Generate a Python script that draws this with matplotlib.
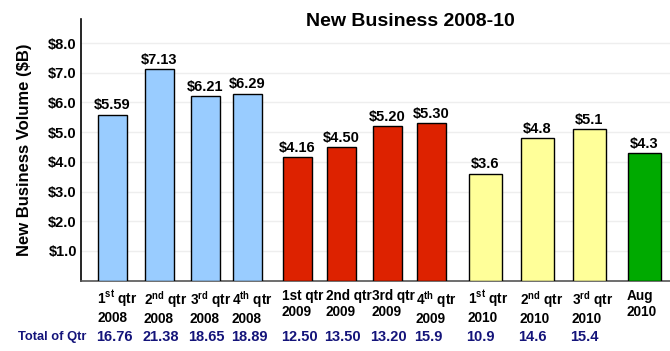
# New Business 2008-10 bar chart

import numpy as np
import matplotlib
matplotlib.use('Agg')
import matplotlib.pyplot as plt

plt.rcParams['font.family'] = ['Liberation Sans', 'DejaVu Sans']
plt.rcParams['font.weight'] = 'bold'
plt.rcParams['mathtext.fontset'] = 'custom'
plt.rcParams['mathtext.bf'] = 'Liberation Sans:bold'
plt.rcParams['mathtext.rm'] = 'Liberation Sans:bold'
plt.rcParams['mathtext.it'] = 'Liberation Sans:bold'

# data
periods = [r'1$^{\mathbf{st}}$ qtr' + '\n2008', r'2$^{\mathbf{nd}}$ qtr' + '\n2008',
           r'3$^{\mathbf{rd}}$ qtr' + '\n2008', r'4$^{\mathbf{th}}$ qtr' + '\n2008',
           '1st qtr\n2009', '2nd qtr\n2009', '3rd qtr\n2009',
           r'4$^{\mathbf{th}}$ qtr' + '\n2009',
           r'1$^{\mathbf{st}}$ qtr' + '\n2010', r'2$^{\mathbf{nd}}$ qtr' + '\n2010',
           r'3$^{\mathbf{rd}}$ qtr' + '\n2010', 'Aug\n2010']
volume = [5.59, 7.13, 6.21, 6.29, 4.16, 4.50, 5.20, 5.30, 3.6, 4.8, 5.1, 4.3]
value_labels = ['$5.59', '$7.13', '$6.21', '$6.29', '$4.16', '$4.50',
                '$5.20', '$5.30', '$3.6', '$4.8', '$5.1', '$4.3']
qtr_totals = ['16.76', '21.38', '18.65', '18.89', '12.50', '13.50',
              '13.20', '15.9', '10.9', '14.6', '15.4', '']

# layout (slot centres and widths, in axis units)
xpos = [31.5, 78, 124, 166.5, 216.5, 260, 306, 350, 404, 456, 508, 563]
widths = [29] * 8 + [33] * 4
colors = ['#99ccff'] * 4 + ['#dd2200'] * 4 + ['#ffff99'] * 3 + ['#00aa00']

fig = plt.figure(figsize=(6.7, 3.51), dpi=100)
ax = fig.add_axes([81 / 670, 1 - 280.7 / 351, 589 / 670, (280.7 - 19) / 351])

ax.bar(xpos, volume, width=widths, color=colors, edgecolor='black',
       linewidth=1.0, zorder=3)

for x, v, lab in zip(xpos, volume, value_labels):
    ax.text(x, v + 0.08, lab, ha='center', va='bottom', fontsize=10.5,
            fontweight='bold', zorder=4)

ax.set_xlim(0, 589)
ax.set_ylim(0, 8.81)
ax.set_yticks(np.arange(1, 9))
ax.set_yticklabels(['$%.1f' % t for t in np.arange(1, 9)],
                   fontsize=10.5, fontweight='bold')
ax.tick_params(axis='y', length=0, pad=3)
ax.yaxis.grid(True, color='#eeeeee', linewidth=1, zorder=0)

# category labels, left aligned near the left edge of each bar
ax.set_xticks([])
for x, w, lab in zip(xpos, widths, periods):
    ax.annotate(lab, xy=(x - w / 2, 0), xycoords=('data', 'axes fraction'),
                xytext=(-1, -8), textcoords='offset pixels',
                ha='left', va='top', fontsize=9.8, fontweight='bold',
                multialignment='left', linespacing=1.2)

for s in ['top', 'right']:
    ax.spines[s].set_visible(False)
ax.spines['left'].set_color('black')
ax.spines['left'].set_linewidth(1.2)
ax.spines['bottom'].set_color('#555555')
ax.spines['bottom'].set_linewidth(1.2)

ax.set_ylabel('New Business Volume ($B)', fontsize=12, fontweight='bold')
ax.yaxis.set_label_coords(-0.083, 0.5)

fig.text(410 / 670, 1 - 21 / 351, 'New Business 2008-10', ha='center',
         va='center', fontsize=14, fontweight='bold')

# total of quarter row
navy = '#14147a'
fig.text(18 / 670, 1 - 337 / 351, 'Total of Qtr', ha='left', va='center',
         fontsize=9.3, fontweight='bold', color=navy)
for x, w, t in zip(xpos, widths, qtr_totals):
    ax.annotate(t, xy=(x - w / 2, 0), xycoords=('data', 'axes fraction'),
                xytext=(-2, -56.3), textcoords='offset pixels',
                ha='left', va='center', fontsize=10.5,
                fontweight='bold', color=navy)

fig.savefig('out.png', dpi=100)
